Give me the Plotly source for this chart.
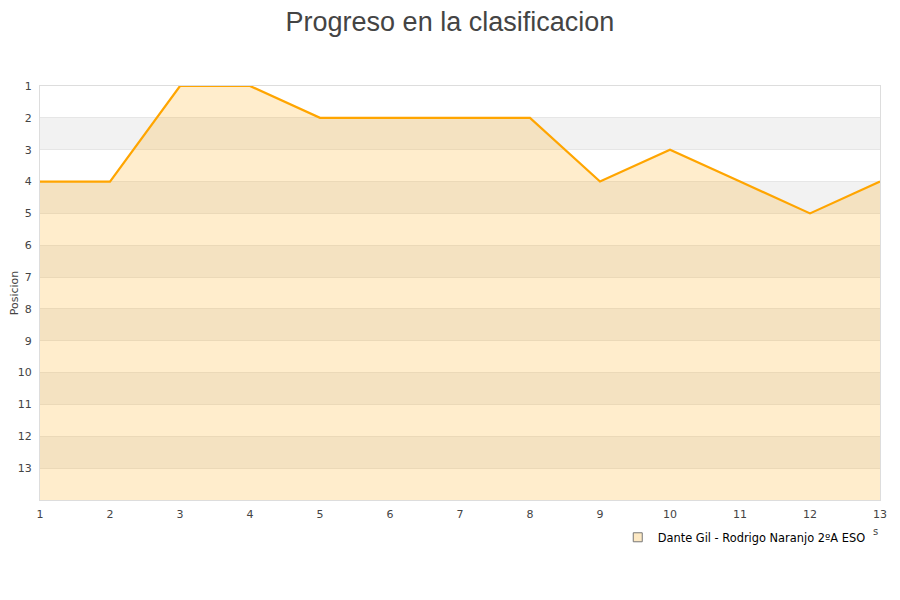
import plotly.graph_objects as go

jornadas = list(range(1, 14))
posiciones = [4, 4, 1, 1, 2, 2, 2, 2, 4, 3, 4, 5, 4]
base = [14] * 13
y_ticks = list(range(1, 14))
serie = "Dante Gil - Rodrigo Naranjo 2ºA ESO"

fig = go.Figure()

# alternating bands
shapes = []
for k in range(1, 14):
    if k % 2 == 0:
        shapes.append(dict(type="rect", xref="paper", yref="y", x0=0, x1=1, y0=k, y1=k + 1,
                           fillcolor="#f2f2f2", line=dict(width=0), layer="below"))

fig.add_trace(go.Scatter(x=jornadas, y=base, mode="lines", line=dict(width=0),
                         showlegend=False, hoverinfo="skip"))
fig.add_trace(go.Scatter(x=jornadas, y=posiciones, mode="lines", fill="tonexty",
                         fillcolor="rgba(255,165,0,0.2)",
                         line=dict(color="#FFA500", width=2.2), showlegend=False))
fig.add_trace(go.Scatter(x=[None], y=[None], mode="markers", name=serie,
                         marker=dict(symbol="square", size=9, color="#fde9c4",
                                     line=dict(color="#777", width=1))))

fig.update_layout(
    width=900, height=600,
    paper_bgcolor="white", plot_bgcolor="white",
    margin=dict(l=32, r=28, t=78, b=108),
    title=dict(text="Progreso en la clasificacion", x=0.491, xanchor="center", y=0.993, yanchor="top",
               pad=dict(t=0),
               font=dict(family="Liberation Sans", size=27, color="#444")),
    shapes=shapes,
    font=dict(family="DejaVu Sans", size=11, color="#444"),
    legend=dict(orientation="h", x=0.989, xanchor="right", y=-0.055, yanchor="top",
                font=dict(size=11.4, color="#000"), bgcolor="rgba(0,0,0,0)"),
    annotations=[dict(text="s", xref="paper", yref="paper", x=1.0005, y=-0.095,
                      showarrow=False, font=dict(size=10, color="#444"))],
)
fig.update_xaxes(range=[1, 13], tickvals=jornadas, showgrid=False, zeroline=False, automargin=False,
                 showline=True, linecolor="#ddd", mirror=True, ticks="", tickfont=dict(size=11),
                 ticklabelstandoff=4)
fig.update_yaxes(range=[14, 1], tickvals=y_ticks, showgrid=True, gridcolor="#e6e6e6", automargin=False,
                 zeroline=False, showline=True, linecolor="#ddd", mirror=True, ticklabelstandoff=5,
                 title=dict(text="Posicion", font=dict(size=11), standoff=2), tickfont=dict(size=11))

fig.write_html("out.html")
